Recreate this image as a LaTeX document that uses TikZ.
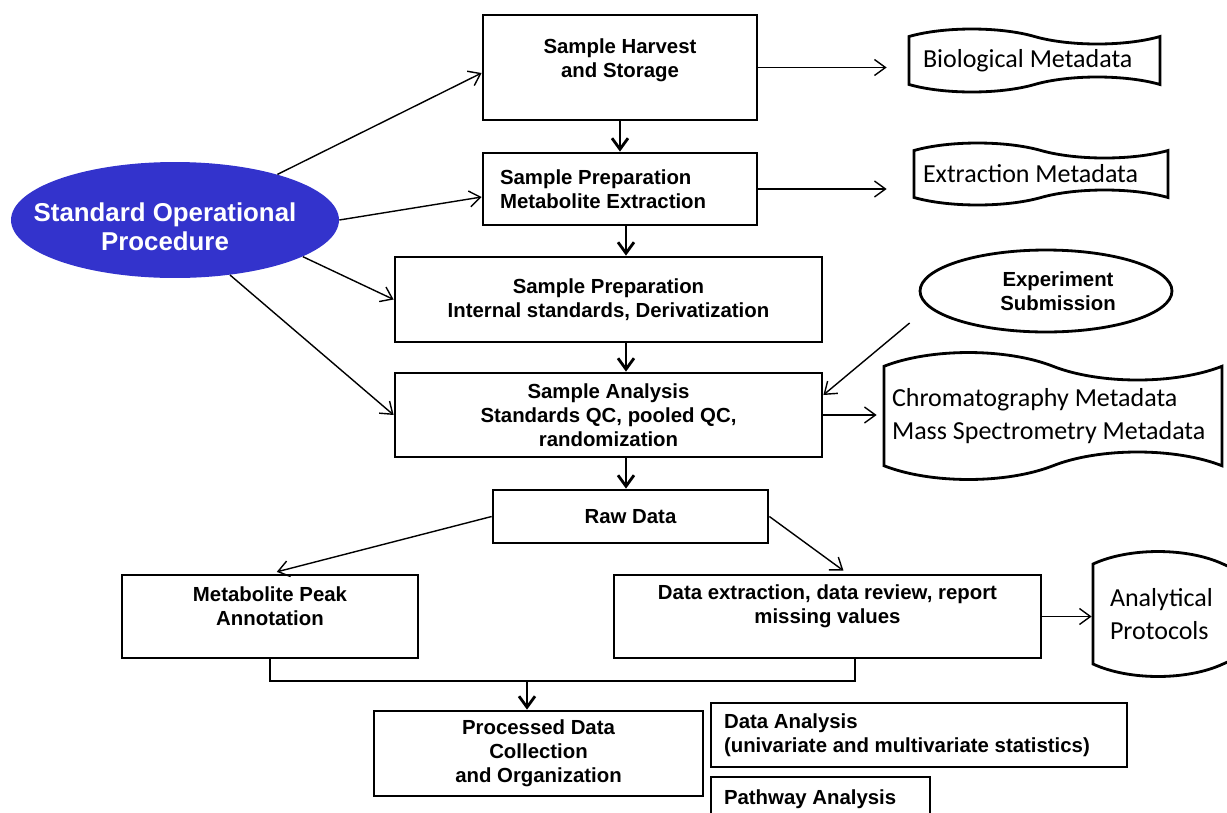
\documentclass[tikz,border=0pt]{standalone}
\usepackage{fontspec}
\setmainfont{Liberation Sans}
\newfontfamily\calibri{Carlito}
\usepackage{tikz}
\usetikzlibrary{shapes,arrows,positioning,calc,arrows.meta}
\definecolor{sopblue}{HTML}{3333CC}

\begin{document}
\begin{tikzpicture}[x=0.02cm, y=-0.02cm,
        >={Straight Barb[length=2.2mm,width=3.2mm]},
        boxtext/.style={align=center, font=\fontsize{11.6}{13.6}\selectfont\bfseries},
        box/.style={rectangle, draw, line width=1.6pt, inner sep=2pt, boxtext},
        note/.style={rectangle, draw, line width=0.8pt, inner sep=2pt, align=flush left,
            font=\fontsize{11.6}{13.6}\selectfont\bfseries},
        doc/.style={tape, draw, line width=1.6pt, tape bend top=out and in,
            tape bend bottom=in and out, align=flush left, inner sep=2pt,
            font=\fontsize{14.8}{19}\selectfont\calibri},
        sop/.style={ellipse, fill=sopblue, inner sep=0pt},
        soptext/.style={align=center, text=white, font=\fontsize{14.7}{16.4}\selectfont\bfseries},
        oval/.style={ellipse, draw, line width=1.6pt, inner sep=0pt, boxtext},
        arr/.style={->, line width=0.8pt},
        flow/.style={->, line width=1.6pt}
    ]
    \useasboundingbox (0,0) rectangle (1227,812);
    \clip (0,0) rectangle (1227,812);

    % Standard operational procedure
    \node[sop, minimum width=6.56cm, minimum height=2.32cm] (sop) at (175,220) {};
    \node[soptext] (soplabel) at (165,227) {Standard Operational\\Procedure};

    % Main workflow
    \node[box, minimum width=5.48cm, minimum height=2.1cm,
        label={[boxtext, yshift=0.15cm]center:Sample Harvest\\and Storage}] (harvest) at (620,67.5) {};
    \node[box, minimum width=5.48cm, minimum height=1.44cm, align=flush left, text width=4.8cm] (prep1) at (620,189) {Sample Preparation\\Metabolite Extraction};
    \node[box, minimum width=8.54cm, minimum height=1.7cm] (prep2) at (608.5,299.5) {Sample Preparation\\Internal standards, Derivatization};
    \node[box, minimum width=8.54cm, minimum height=1.68cm] (analysis) at (608.5,415) {Sample Analysis\\Standards QC, pooled QC,\\randomization};
    \node[box, minimum width=5.5cm, minimum height=1.06cm] (raw) at (630.5,516.5) {Raw Data};
    \node[box, minimum width=5.92cm, minimum height=1.66cm,
        label={[boxtext, yshift=0.21cm]center:Metabolite Peak\\Annotation}] (peak) at (270,616.5) {};
    \node[box, minimum width=8.54cm, minimum height=1.66cm,
        label={[boxtext, yshift=0.21cm]center:Data extraction, data review, report\\missing values}] (extract) at (827.5,616.5) {};
    \node[box, minimum width=6.58cm, minimum height=1.7cm] (proc) at (538.5,753.5) {Processed Data\\Collection\\and Organization};

    % Downstream analysis
    \node[note, minimum width=8.32cm, minimum height=1.28cm, text width=7.8cm] (stats) at (919,735) {Data Analysis\\(univariate and multivariate statistics)};
    \node[note, minimum width=4.38cm, minimum height=0.88cm, text width=3.86cm] (pathway) at (820.5,799) {Pathway Analysis};

    % Submission and metadata
    \node[oval, minimum width=5.04cm, minimum height=1.64cm,
        label={[boxtext, xshift=0.24cm]center:Experiment\\Submission}] (exp) at (1046,291) {};
    \node[doc, minimum width=5.02cm, minimum height=1.26cm, tape bend height=0.3cm, text width=4.46cm] (bio) at (1034.5,60.5) {Biological Metadata};
    \node[doc, minimum width=5.08cm, minimum height=1.24cm, tape bend height=0.3cm, text width=4.72cm] (extr) at (1041,174) {Extraction Metadata};
    \node[doc, minimum width=6.76cm, minimum height=2.54cm, tape bend height=0.55cm, text width=6.44cm] (chrom) at (1053,416) {Chromatography Metadata\\Mass Spectrometry Metadata};
    \node[doc, minimum width=5.2cm, minimum height=2.5cm, tape bend height=0.5cm, text width=4.52cm] (prot) at (1223,614) {Analytical\\Protocols};

    % SOP links
    \draw[arr] (sop.24) -- ([yshift=-0.11cm]harvest.west);
    \draw[arr] (sop.east) -- ([yshift=-0.16cm]prep1.west);
    \draw[arr] (sop.-16) -- (prep2.west);
    \draw[arr] (sop.-45) -- (analysis.west);

    % Flow down the middle
    \coordinate (spine) at (626,0);
    \draw[flow] (harvest) -- (prep1);
    \draw[flow] (prep1.south -| spine) -- (prep2.north -| spine);
    \draw[flow] (prep2.south -| spine) -- (analysis.north -| spine);
    \draw[flow] (analysis.south -| spine) -- (raw.north -| spine);

    % Metadata links
    \draw[arr, shorten >=0.42cm] (harvest.east) -- (harvest.east -| bio.west);
    \draw[arr, shorten >=0.52cm] (prep1.east) -- (prep1.east -| extr.west);
    \draw[arr, shorten >=0.12cm] (analysis.east) -- (analysis.east -| chrom.west);
    \draw[arr] (extract.east) -- (extract.east -| prot.west);
    \coordinate (subm) at ([xshift=-0.18cm, yshift=-0.64cm]exp.west);
    \draw[arr] (subm) -- ([yshift=0.4cm]analysis.east);

    % Data processing
    \draw[arr, shorten >=0.14cm] (raw.west) -- (peak.north);
    \draw[arr, shorten >=0.1cm] (raw.east) -- ([xshift=0.4cm]extract.north);
    \coordinate (merge) at (527,681);
    \draw[line width=0.8pt] (peak.south) |- (merge) -| ([xshift=0.55cm]extract.south);
    \draw[flow] (merge) -- (merge |- proc.north);
\end{tikzpicture}
\end{document}
